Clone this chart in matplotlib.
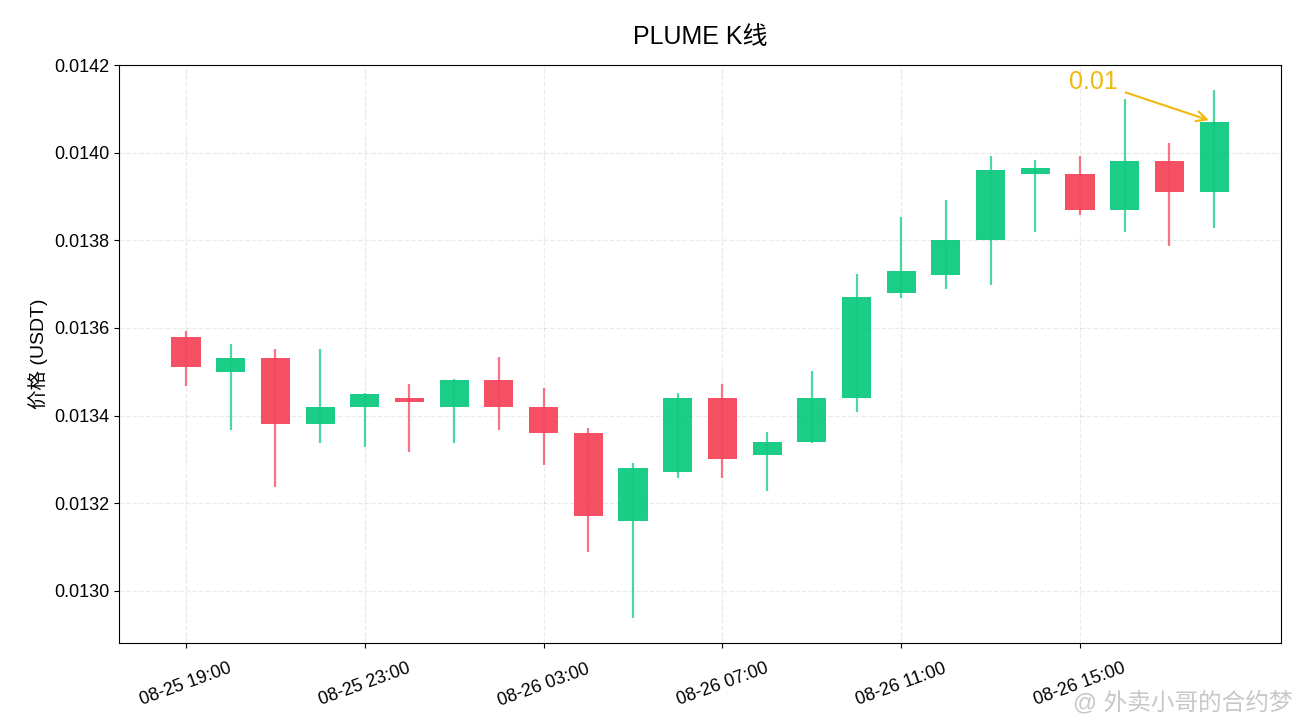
import numpy as np
import pandas as pd
import matplotlib
matplotlib.use("Agg")
import matplotlib.pyplot as plt
import matplotlib.dates as mdates
from matplotlib.ticker import FormatStrFormatter

plt.rcParams['font.family'] = ['Liberation Sans', 'Noto Sans CJK SC', 'DejaVu Sans']

# dades (hourly candles)
times = pd.date_range("2025-08-25 19:00", periods=24, freq="h")
opens = [0.013580, 0.013500, 0.013532, 0.013381, 0.013420, 0.013440, 0.013420, 0.013481,
         0.013420, 0.013360, 0.013160, 0.013272, 0.013440, 0.013310, 0.013340, 0.013440,
         0.013680, 0.013721, 0.013801, 0.013951, 0.013951, 0.013869, 0.013981, 0.013910]
closes = [0.013511, 0.013532, 0.013381, 0.013420, 0.013450, 0.013432, 0.013481, 0.013420,
          0.013360, 0.013171, 0.013281, 0.013440, 0.013301, 0.013340, 0.013440, 0.013671,
          0.013730, 0.013801, 0.013961, 0.013965, 0.013869, 0.013981, 0.013910, 0.014070]
highs = [0.013593, 0.013564, 0.013552, 0.013552, 0.013452, 0.013472, 0.013484, 0.013534,
         0.013463, 0.013372, 0.013292, 0.013452, 0.013472, 0.013363, 0.013502, 0.013723,
         0.013853, 0.013892, 0.013992, 0.013983, 0.013992, 0.014123, 0.014022, 0.014143]
lows = [0.013468, 0.013367, 0.013237, 0.013338, 0.013329, 0.013317, 0.013338, 0.013367,
        0.013287, 0.013089, 0.012938, 0.013258, 0.013258, 0.013228, 0.013338, 0.013408,
        0.013668, 0.013689, 0.013698, 0.013819, 0.013858, 0.013819, 0.013787, 0.013828]

up_color = '#0ECB81'
down_color = '#F6465D'

x = mdates.date2num(times)
o = np.array(opens)
c = np.array(closes)
colors = [up_color if cc >= oo else down_color for oo, cc in zip(o, c)]

fig = plt.figure(figsize=(13, 7.28), dpi=100)
ax = fig.add_axes([0.0915, 0.1168, 0.894, 0.7939])

# mechas
ax.vlines(x, lows, highs, colors=colors, linewidth=1.6, alpha=0.75, zorder=2)

# cossos
body_h = np.maximum(np.abs(c - o), 0.000003)
ax.bar(x, body_h, bottom=np.minimum(o, c), width=0.65 / 24, color=colors,
       alpha=0.95, linewidth=0, zorder=3)

# anotació últim preu
ax.annotate(f"{closes[-1]:.2f}", xy=(x[-1], closes[-1]), xytext=(-87, 29),
            textcoords='offset points', ha='center', va='center',
            fontsize=18, color='#F0B90B',
            arrowprops=dict(arrowstyle='->', color='#F0B90B', lw=1.5,
                            shrinkA=4, shrinkB=4))

ax.set_xlim(x[0] - 1.5 / 24, x[-1] + 1.5 / 24)
ax.set_ylim(0.012881, 0.0142)
ax.set_yticks(np.arange(0.0130, 0.01421, 0.0002))
ax.yaxis.set_major_formatter(FormatStrFormatter('%.4f'))

ax.set_xticks(x[::4])
ax.xaxis.set_major_formatter(mdates.DateFormatter('%m-%d %H:%M'))
plt.setp(ax.get_xticklabels(), rotation=20, ha='center')
ax.tick_params(labelsize=13)
ax.tick_params(axis='x', pad=9)

ax.grid(True, linestyle='--', color='#cccccc', alpha=0.4, linewidth=0.9)
ax.set_axisbelow(True)

ax.set_ylabel('价格 (USDT)', fontsize=14)
ax.set_title('PLUME K线', fontsize=18, pad=15)

# marca d'aigua
fig.text(0.994, 0.018, '@ 外卖小哥的合约梦', ha='right', va='bottom',
         fontsize=17, color='#c8c8c8')

plt.savefig("out.png", dpi=100)
